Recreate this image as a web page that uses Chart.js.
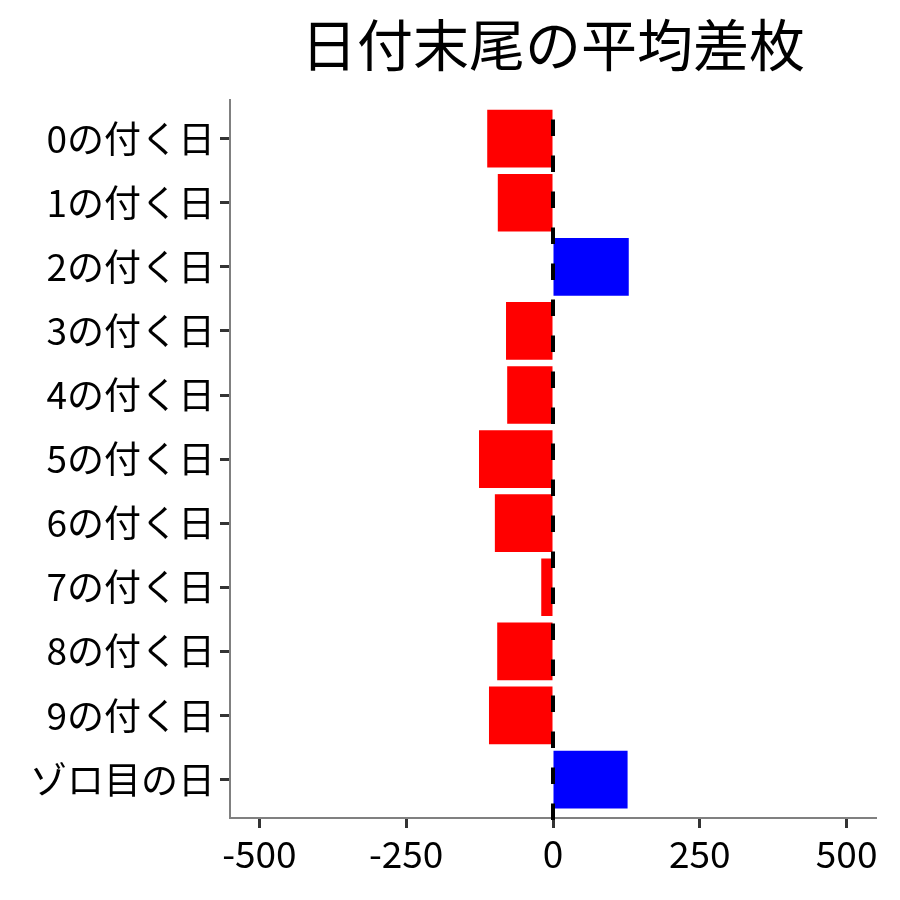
<!DOCTYPE html>
<html>
<head>
<meta charset="utf-8">
<script src="https://cdn.jsdelivr.net/npm/chart.js@4.4.1/dist/chart.umd.min.js"></script>
<style>
html,body{margin:0;padding:0;background:#fff;}
#wrap{width:900px;height:900px;}
</style>
</head>
<body>
<div id="wrap"><canvas id="c" width="900" height="900"></canvas></div>
<script>
const titleText = "日付末尾の平均差枚";
const categories = ["0の付く日","1の付く日","2の付く日","3の付く日","4の付く日","5の付く日","6の付く日","7の付く日","8の付く日","9の付く日","ゾロ目の日"];
const values = [-112, -94, 129, -80, -78, -126, -99, -20, -95, -109, 127];
const xTickValues = [-500, -250, 0, 250, 500];
const referenceValue = 0;

const FONT = "'Noto Sans CJK JP', 'Noto Sans', sans-serif";

const refLinePlugin = {
  id: 'refLine',
  afterDatasetsDraw(chart) {
    const {ctx, chartArea, scales} = chart;
    const x = scales.x.getPixelForValue(referenceValue);
    ctx.save();
    ctx.strokeStyle = '#000';
    ctx.lineWidth = 4;
    ctx.lineCap = 'butt';
    ctx.setLineDash([16.5, 19.5]);
    ctx.beginPath();
    ctx.moveTo(x, chartArea.bottom + 2);
    ctx.lineTo(x, chartArea.top);
    ctx.stroke();
    ctx.restore();
  }
};

new Chart(document.getElementById('c'), {
  type: 'bar',
  data: {
    datasets: [{
      data: values.map((v, i) => ({x: v, y: i})),
      backgroundColor: values.map(v => v < 0 ? '#ff0000' : '#0000ff'),
      borderWidth: 0,
      barPercentage: 0.9,
      categoryPercentage: 1.0
    }]
  },
  options: {
    indexAxis: 'y',
    responsive: false,
    animation: false,
    devicePixelRatio: 1,
    layout: {padding: {top: 0, right: 24, bottom: 0, left: 0}},
    plugins: {
      legend: {display: false},
      tooltip: {enabled: false},
      title: {
        display: true,
        text: titleText,
        fullSize: false,
        color: '#000',
        font: {family: FONT, size: 56, weight: 'normal'},
        padding: {top: 11, bottom: 22}
      }
    },
    scales: {
      x: {
        type: 'linear',
        min: -550,
        max: 550,
        afterBuildTicks(scale) { scale.ticks = xTickValues.map(v => ({value: v})); },
        afterFit(scale) { scale.height = 82; },
        ticks: {
          color: '#000',
          font: {family: FONT, size: 37},
          padding: 4,
          maxRotation: 0,
          callback: v => String(v)
        },
        grid: {drawOnChartArea: false, drawTicks: true, tickLength: 10, tickColor: '#333', tickWidth: 3},
        border: {color: '#808080', width: 2}
      },
      y: {
        type: 'linear',
        reverse: true,
        offset: false,
        min: -0.6,
        max: categories.length - 1 + 0.6,
        afterBuildTicks(scale) { scale.ticks = categories.map((c, i) => ({value: i})); },
        afterFit(scale) { scale.width = 230; },
        ticks: {
          color: '#000',
          font: {family: FONT, size: 37},
          padding: 5,
          callback: v => categories[v]
        },
        grid: {offset: false, drawOnChartArea: false, drawTicks: true, tickLength: 10, tickColor: '#333', tickWidth: 3},
        border: {color: '#808080', width: 2}
      }
    }
  },
  plugins: [refLinePlugin]
});
</script>
</body>
</html>
